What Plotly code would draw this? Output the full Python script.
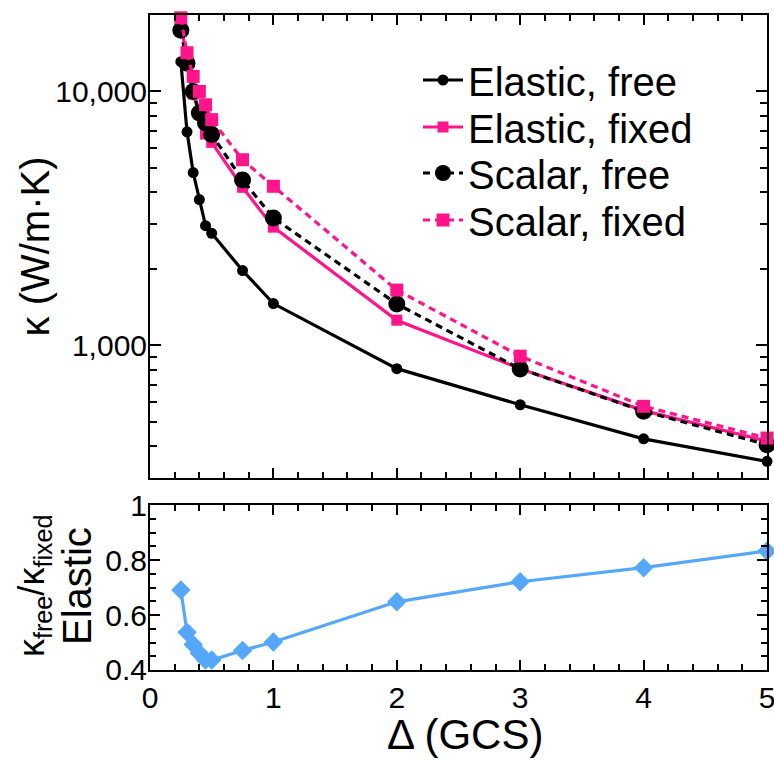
import plotly.graph_objects as go

delta = [0.25, 0.3, 0.35, 0.4, 0.45, 0.5, 0.75, 1, 2, 3, 4, 5]
elastic_free = [13100, 6930, 4790, 3750, 2960, 2760, 1970, 1460, 809, 583, 428, 349]
elastic_fixed = [19000, 12900, 9760, 8120, 6790, 6300, 4190, 2920, 1255, 809, 553, 419]
scalar_free = [17400, 12900, 10000, 8220, 7510, 6760, 4480, 3175, 1455, 807, 550, 406]
scalar_fixed = [19500, 14200, 11460, 10000, 8860, 7740, 5380, 4230, 1650, 906, 575, 431]
ratio_elastic = [0.691, 0.537, 0.493, 0.461, 0.436, 0.436, 0.471, 0.502, 0.648, 0.721, 0.772, 0.833]

y_major = [1000, 10000]
y_major_text = ["1,000", "10,000"]
y_minor = [300, 400, 500, 600, 700, 800, 900, 2000, 3000, 4000, 5000, 6000, 7000, 8000, 9000, 20000]
r_major = [0.4, 0.6, 0.8, 1.0]
r_major_text = ["0.4", "0.6", "0.8", "1"]

BLACK = "#000000"
PINK = "#FF148C"
BLUE = "#55A8F8"
FONT = "Liberation Sans, Arial, sans-serif"

fig = go.Figure()
fig.add_trace(go.Scatter(x=delta, y=elastic_free, name="Elastic, free", mode="lines+markers",
                         line=dict(color=BLACK, width=3.2), marker=dict(symbol="circle", size=11, color=BLACK),
                         cliponaxis=False, legend="legend"))
fig.add_trace(go.Scatter(x=delta, y=elastic_fixed, name="Elastic, fixed", mode="lines+markers",
                         line=dict(color=PINK, width=3.2), marker=dict(symbol="square", size=11, color=PINK),
                         cliponaxis=False, legend="legend2"))
fig.add_trace(go.Scatter(x=delta, y=scalar_free, name="Scalar, free", mode="lines+markers",
                         line=dict(color=BLACK, width=3.2, dash="7px,5px"),
                         marker=dict(symbol="circle", size=17, color=BLACK), cliponaxis=False, legend="legend3"))
fig.add_trace(go.Scatter(x=delta, y=scalar_fixed, name="Scalar, fixed", mode="lines+markers",
                         line=dict(color=PINK, width=3.2, dash="7px,5px"),
                         marker=dict(symbol="square", size=13, color=PINK), cliponaxis=False, legend="legend4"))
fig.add_trace(go.Scatter(x=delta, y=ratio_elastic, xaxis="x2", yaxis="y2", mode="lines+markers",
                         showlegend=False, line=dict(color=BLUE, width=3.2),
                         marker=dict(symbol="diamond", size=15, color=BLUE), cliponaxis=False))

axis_common = dict(showline=True, linecolor=BLACK, linewidth=2, mirror="ticks", ticks="inside",
                   tickcolor=BLACK, tickwidth=1.5, showgrid=False, zeroline=False, automargin=False,
                   ticklabeloverflow="allow",
                   tickfont=dict(family=FONT, size=30, color=BLACK))

legend_x = (418 - 150) / 617
def legend_at(ypx):
    return dict(x=legend_x, y=(670 - ypx) / 655, xanchor="left", yanchor="middle",
                bgcolor="rgba(0,0,0,0)", font=dict(family=FONT, size=40, color=BLACK),
                itemwidth=40, borderwidth=0)

fig.update_layout(
    template="none",
    width=774, height=760,
    margin=dict(l=150, r=7, t=15, b=90),
    plot_bgcolor="white", paper_bgcolor="white",
    font=dict(family=FONT, color=BLACK),
    xaxis=dict(axis_common, domain=[0, 1], anchor="y", range=[0, 5], matches="x2",
               showticklabels=False, dtick=1, tick0=0, ticklen=10,
               minor=dict(dtick=0.2, tick0=0, ticks="inside", ticklen=6, tickcolor=BLACK, tickwidth=1.5)),
    yaxis=dict(axis_common, domain=[0.2931, 1], anchor="x", type="log",
               range=[2.4771, 4.3010], tickmode="array", tickvals=y_major, ticktext=y_major_text,
               ticklen=11, ticklabelstandoff=-5,
               minor=dict(tickmode="array", tickvals=y_minor, ticks="inside", ticklen=7,
                          tickcolor=BLACK, tickwidth=1.5)),
    xaxis2=dict(axis_common, domain=[0, 1], anchor="y2", range=[0, 5], dtick=1, tick0=0, ticklen=10,
                minor=dict(dtick=0.2, tick0=0, ticks="inside", ticklen=6, tickcolor=BLACK, tickwidth=1.5)),
    yaxis2=dict(axis_common, domain=[0, 0.2519], anchor="x2", range=[0.4, 1.0],
                tickmode="array", tickvals=r_major, ticktext=r_major_text, ticklen=10, ticklabelstandoff=-5,
                minor=dict(dtick=0.05, tick0=0.4, ticks="inside", ticklen=6, tickcolor=BLACK, tickwidth=1.5)),
    legend=legend_at(80),
    legend2=legend_at(127),
    legend3=legend_at(173),
    legend4=legend_at(220),
    showlegend=True,
)

fig.add_annotation(text="κ (W/m·K)", xref="paper", yref="paper", x=-0.1864, y=0.6466,
                   textangle=-90, showarrow=False, xanchor="center", yanchor="middle",
                   font=dict(family=FONT, size=40, color=BLACK))
fig.add_annotation(text="Elastic", xref="paper", yref="paper", x=-0.1183, y=0.1282,
                   textangle=-90, showarrow=False, xanchor="center", yanchor="middle",
                   font=dict(family=FONT, size=40, color=BLACK))
fig.add_annotation(text="κ<sub>free</sub>/κ<sub>fixed</sub>", xref="paper", yref="paper", x=-0.1880, y=0.1282,
                   textangle=-90, showarrow=False, xanchor="center", yanchor="middle",
                   font=dict(family=FONT, size=36, color=BLACK))
fig.add_annotation(text="Δ (GCS)", xref="paper", yref="paper", x=0.5105, y=-0.0992,
                   showarrow=False, xanchor="center", yanchor="middle",
                   font=dict(family=FONT, size=42, color=BLACK))

fig.write_html("out.html")
